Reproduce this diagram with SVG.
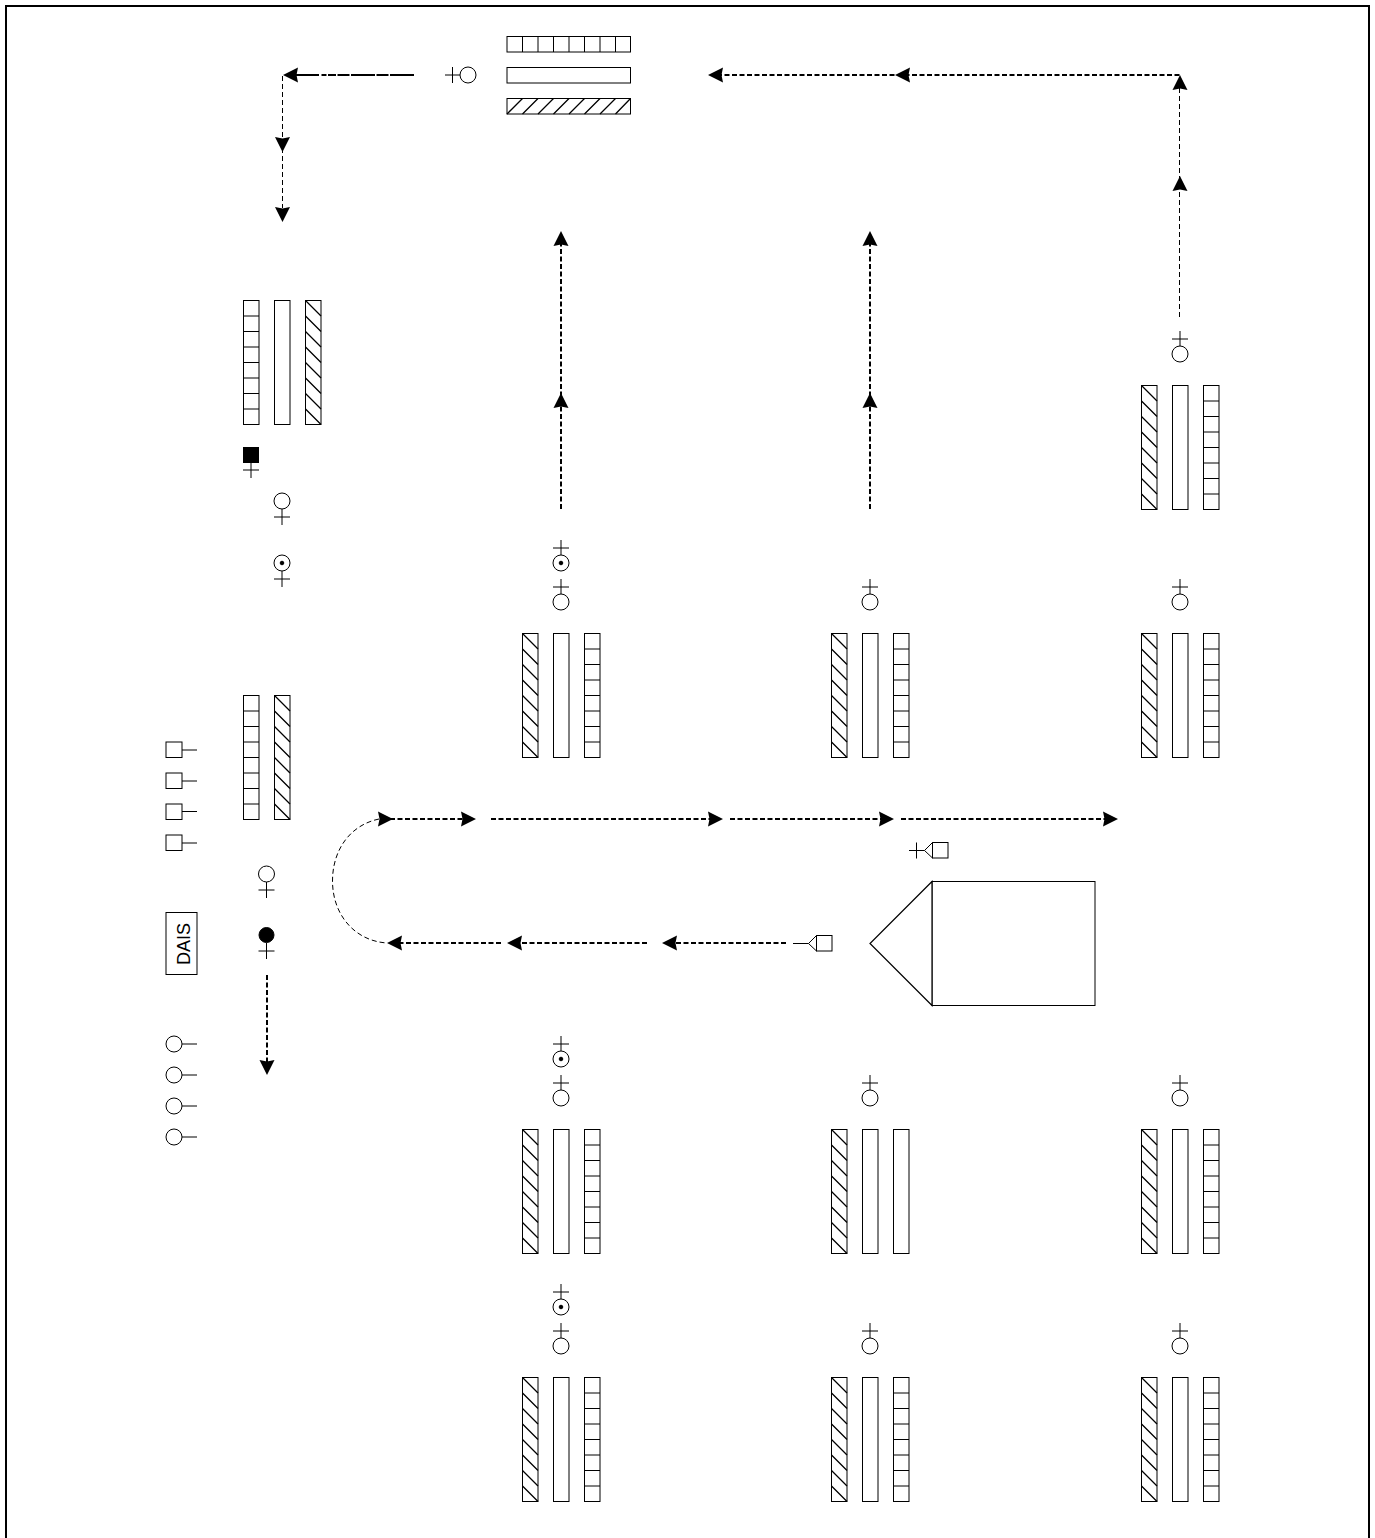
<svg xmlns="http://www.w3.org/2000/svg" width="1375" height="1538" viewBox="0 0 1375 1538">
<style>
.s{fill:#fff;stroke:#000;stroke-width:1}
.n{fill:none;stroke:#000;stroke-width:1}
.h{fill:none;stroke:#000;stroke-width:1.300}
.k{fill:#000;stroke:#000;stroke-width:1}
.thin{fill:none;stroke:#000;stroke-width:1;stroke-dasharray:5 3}
.thick{fill:none;stroke:#000;stroke-width:2;stroke-dasharray:5 2.500}
.head{fill:#000;stroke:none}
text{font-family:"Liberation Sans",Arial,sans-serif;font-size:18px;fill:#000}
</style>
<defs>
<g id="plainV"><rect class="s" x="0.5" y="0.5" width="15.500" height="124"/></g>
<g id="gridV"><rect class="s" x="0.5" y="0.5" width="15.500" height="124"/><path class="n" d="M0.5 16H16M0.5 31.500H16M0.5 47H16M0.5 62.500H16M0.5 78H16M0.5 93.500H16M0.5 109H16"/></g>
<g id="hatchV"><rect class="s" x="0.5" y="0.5" width="15.500" height="124"/><path class="h" d="M0.5 0.500L16 16M0.5 16L16 31.500M0.5 31.500L16 47M0.5 47L16 62.500M0.5 62.500L16 78M0.5 78L16 93.500M0.5 93.500L16 109M0.5 109L16 124.500"/></g>
<g id="upO"><circle class="s" cx="0" cy="0" r="8"/><path class="n" d="M0 -8V-23M-8 -15H8"/></g>
<g id="upD"><circle class="s" cx="0" cy="0" r="8"/><circle class="k" cx="0" cy="0" r="1.800"/><path class="n" d="M0 -8V-23M-8 -15H8"/></g>
<g id="dnO"><circle class="s" cx="0" cy="0" r="8"/><path class="n" d="M0 8V24M-8 16H8"/></g>
<path id="hL" class="head" d="M0 0L15 -7.500L13.500 0L15 7.500Z"/>
<path id="hR" class="head" d="M0 0L-15 -7.500L-13.500 0L-15 7.500Z"/>
<path id="hU" class="head" d="M0 0L-7.500 15L0 13.500L7.500 15Z"/>
<path id="hD" class="head" d="M0 0L-7.500 -15L0 -13.500L7.500 -15Z"/>
</defs>
<rect id="frame" x="6" y="6" width="1363" height="1560" fill="#fff" stroke="#000" stroke-width="2"/>

<g id="connectors">
<path class="thick" style="stroke-dasharray:24 1.500 12 1.500 24 1.500 12 1.500 8 1.500 5 2.500" d="M414 75H296"/>
<path class="thin" d="M282.500 76V208"/>
<path class="thin" d="M1179.500 317V88"/>
<path class="thick" d="M1179.500 75H720"/>
<path class="thick" d="M561 509V243"/>
<path class="thick" d="M870 509V243"/>
<path class="thick" d="M390 819H464"/>
<path class="thick" d="M491 819H711"/>
<path class="thick" d="M730 819H882"/>
<path class="thick" d="M901 819H1106"/>
<path class="thick" d="M786 943H674"/>
<path class="thick" d="M647 943H519"/>
<path class="thick" d="M501 943H399"/>
<path class="thin" d="M379 819C350 825 332.500 850 332.500 881C332.500 915 355 941 387 943"/>
<path class="thick" d="M267 975V1063"/>
<use href="#hL" x="283" y="75"/>
<use href="#hD" x="282.500" y="152"/>
<use href="#hD" x="282.500" y="222"/>
<use href="#hU" x="1180" y="75"/>
<use href="#hU" x="1180" y="176"/>
<use href="#hL" x="895" y="75"/>
<use href="#hL" x="708" y="75"/>
<use href="#hU" x="561" y="231"/>
<use href="#hU" x="561" y="393"/>
<use href="#hU" x="870" y="231"/>
<use href="#hU" x="870" y="393"/>
<use href="#hR" x="393" y="819"/>
<use href="#hR" x="476" y="819"/>
<use href="#hR" x="723" y="819"/>
<use href="#hR" x="894" y="819"/>
<use href="#hR" x="1118" y="819"/>
<use href="#hL" x="662" y="943"/>
<use href="#hL" x="507" y="943"/>
<use href="#hL" x="387" y="943"/>
<use href="#hD" x="267" y="1075"/>
</g>

<g id="top-bars">
<rect class="s" x="507" y="36.500" width="123.500" height="15.500"/>
<path class="n" d="M522.500 36.500V52M538 36.500V52M553.500 36.500V52M569 36.500V52M584.500 36.500V52M600 36.500V52M615.500 36.500V52"/>
<rect class="s" x="507" y="67.500" width="123.500" height="15.500"/>
<rect class="s" x="507" y="98.500" width="123.500" height="15.500"/>
<path class="h" d="M507 114L522.500 98.500M522.500 114L538 98.500M538 114L553.500 98.500M553.500 114L569 98.500M569 114L584.500 98.500M584.500 114L600 98.500M600 114L615.500 98.500M615.500 114L630.500 98.500"/>
</g>
<g id="top-person"><circle class="s" cx="468" cy="75" r="8"/><path class="n" d="M460 75H445M452.500 67V83"/></g>

<g id="left-bars-1"><use href="#gridV" x="243" y="300"/><use href="#plainV" x="274" y="300"/><use href="#hatchV" x="305" y="300"/></g>
<g id="left-person-black-square"><rect class="k" x="243.500" y="447.500" width="15" height="15"/><path class="n" d="M251 463V478M243 470H259"/></g>
<g id="left-person-2"><use href="#dnO" x="282" y="501"/></g>
<g id="left-person-3"><use href="#dnO" x="282" y="563"/><circle class="k" cx="282" cy="563" r="1.800"/></g>
<g id="left-bars-2"><use href="#gridV" x="243" y="695"/><use href="#hatchV" x="274" y="695"/></g>

<g id="squares">
<rect class="s" x="166" y="742" width="16" height="15.500"/><path class="n" d="M182 750H197"/>
<rect class="s" x="166" y="773" width="16" height="15.500"/><path class="n" d="M182 781H197"/>
<rect class="s" x="166" y="804" width="16" height="15.500"/><path class="n" d="M182 811.500H197"/>
<rect class="s" x="166" y="835" width="16" height="15.500"/><path class="n" d="M182 843H197"/>
</g>
<g id="person-f"><use href="#dnO" x="266.500" y="874"/></g>
<g id="person-f-black"><circle class="k" cx="266.500" cy="935" r="7.500"/><path class="n" d="M266.500 943V959M258.500 951H274.500"/></g>
<g id="dais"><rect class="s" x="166" y="912.500" width="31" height="62"/><text transform="translate(190 944) rotate(-90)" text-anchor="middle">DAIS</text></g>
<g id="circles">
<circle class="s" cx="174" cy="1044" r="8"/><path class="n" d="M182 1044H197"/>
<circle class="s" cx="174" cy="1075" r="8"/><path class="n" d="M182 1075H197"/>
<circle class="s" cx="174" cy="1106" r="8"/><path class="n" d="M182 1106H197"/>
<circle class="s" cx="174" cy="1137" r="8"/><path class="n" d="M182 1137H197"/>
</g>

<g id="block-r1-c3"><use href="#upO" x="1180" y="354"/><use href="#hatchV" x="1141" y="385"/><use href="#plainV" x="1172" y="385"/><use href="#gridV" x="1203" y="385"/></g>
<g id="block-r2-c1"><use href="#upD" x="561" y="563"/><use href="#upO" x="561" y="602"/><use href="#hatchV" x="522" y="633"/><use href="#plainV" x="553" y="633"/><use href="#gridV" x="584" y="633"/></g>
<g id="block-r2-c2"><use href="#upO" x="870" y="602"/><use href="#hatchV" x="831" y="633"/><use href="#plainV" x="862" y="633"/><use href="#gridV" x="893" y="633"/></g>
<g id="block-r2-c3"><use href="#upO" x="1180" y="602"/><use href="#hatchV" x="1141" y="633"/><use href="#plainV" x="1172" y="633"/><use href="#gridV" x="1203" y="633"/></g>
<g id="block-r3-c1"><use href="#upD" x="561" y="1059"/><use href="#upO" x="561" y="1098"/><use href="#hatchV" x="522" y="1129"/><use href="#plainV" x="553" y="1129"/><use href="#gridV" x="584" y="1129"/></g>
<g id="block-r3-c2"><use href="#upO" x="870" y="1098"/><use href="#hatchV" x="831" y="1129"/><use href="#plainV" x="862" y="1129"/><use href="#plainV" x="893" y="1129"/></g>
<g id="block-r3-c3"><use href="#upO" x="1180" y="1098"/><use href="#hatchV" x="1141" y="1129"/><use href="#plainV" x="1172" y="1129"/><use href="#gridV" x="1203" y="1129"/></g>
<g id="block-r4-c1"><use href="#upD" x="561" y="1307"/><use href="#upO" x="561" y="1346"/><use href="#hatchV" x="522" y="1377"/><use href="#plainV" x="553" y="1377"/><use href="#gridV" x="584" y="1377"/></g>
<g id="block-r4-c2"><use href="#upO" x="870" y="1346"/><use href="#hatchV" x="831" y="1377"/><use href="#plainV" x="862" y="1377"/><use href="#gridV" x="893" y="1377"/></g>
<g id="block-r4-c3"><use href="#upO" x="1180" y="1346"/><use href="#hatchV" x="1141" y="1377"/><use href="#plainV" x="1172" y="1377"/><use href="#gridV" x="1203" y="1377"/></g>

<g id="tag-upper"><rect class="s" x="932.500" y="842.500" width="15.500" height="15.500"/><path class="s" d="M932.500 842.500L924.500 850.500L932.500 858Z"/><path class="n" d="M924.500 850.500H909M916.500 842.500V858.500"/></g>
<g id="tag-lower"><rect class="s" x="816.500" y="935.500" width="15.500" height="15.500"/><path class="s" d="M816.500 935.500L808.500 943.500L816.500 951Z"/><path class="n" d="M808.500 943.500H793"/></g>
<g id="big-shape"><rect class="s" x="932" y="881.500" width="163" height="124"/><path class="s" style="stroke-width:1.200" d="M932 881.500L870 943.500L932 1005.500Z"/></g>
</svg>
